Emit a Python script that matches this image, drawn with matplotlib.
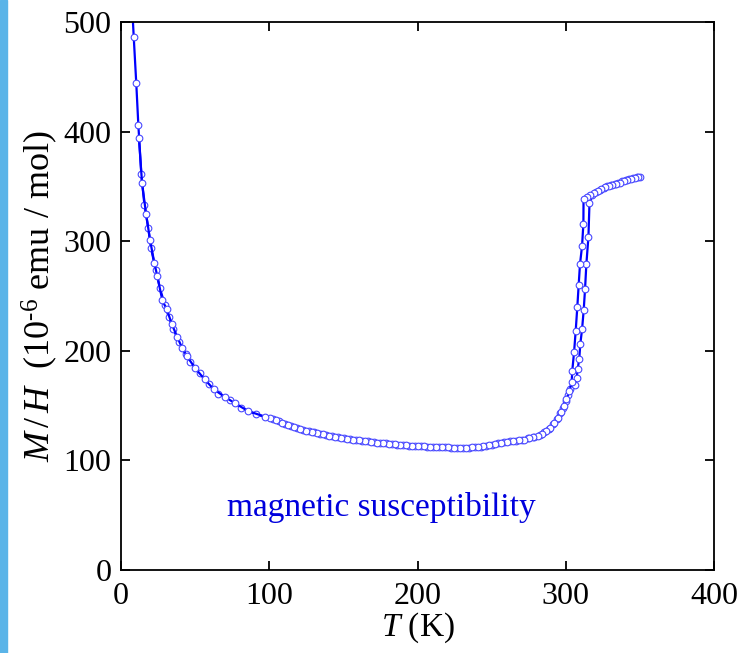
import matplotlib
matplotlib.use('Agg')
import matplotlib.pyplot as plt
from matplotlib.patches import Rectangle

plt.rcParams['font.family'] = ['Liberation Serif', 'DejaVu Serif']
plt.rcParams['mathtext.fontset'] = 'custom'
plt.rcParams['mathtext.rm'] = 'Liberation Serif'
plt.rcParams['mathtext.it'] = 'Liberation Serif:italic'

# ---- data (T in K, M/H in 1e-6 emu/mol) ----
# warming branch
T_warm = [7.6, 8.6, 10.3, 11.7, 13.7, 15.8, 18.4, 20.2, 23.4, 26.3, 29.5, 32.2,
          35.1, 39.4, 43.6, 46.8, 53.1, 59.1, 65.4, 73.3, 81.2, 91.3, 102.5,
          106.5, 110.5, 114.5, 118.5, 122.5, 126.5, 130.5, 134.5, 138.5, 142.5,
          146.5, 150.5, 154.5, 158.5, 162.5, 166.5, 170.5, 174.5, 178.5, 182.5,
          186.5, 190.5, 194.5, 198.5, 202.5, 206.5, 210.5, 214.5, 218.5, 222.5,
          226.5, 230.5, 234.5, 238.5, 242.5, 246.5, 250.5, 254.5, 258.5, 262.5,
          266.5, 270.5, 274.5, 278.5, 282.5, 285.5, 288.5, 291.5, 294.0, 296.0,
          298.0, 300.0, 301.7, 303.0, 306.2, 307.4, 308.0, 309.1, 309.8, 311.0,
          312.1, 313.0, 313.9, 315.3, 316.0, 318.0, 320.5, 323.0, 325.5, 328.0,
          330.5, 333.0, 335.5, 338.0, 340.5, 343.0, 345.5, 348.0, 350.0]
MH_warm = [512, 486, 444, 406, 361, 333, 312, 294, 274, 257, 242, 231,
           220, 208, 197, 190, 180, 170, 161, 155, 148, 142, 137.5,
           135.5, 133.5, 131.5, 129.5, 128, 126.5, 125.5, 124.5, 123, 122,
           121, 120, 119.5, 118.5, 118, 117.5, 116.5, 116, 115.5, 115,
           114.5, 114, 113.5, 113, 113, 112.5, 112.5, 112, 112, 111.5,
           111, 111, 111.5, 112, 112.5, 113.5, 114.5, 115.5, 116.5, 117.5,
           118, 119, 120, 121.5, 123.5, 126, 129, 133, 138, 143,
           148, 154, 160, 165, 169, 175, 183, 192.5, 206, 219.6,
           237, 256, 279, 304, 334.6, 342, 345, 347, 348.5, 350,
           351, 352, 353.5, 354.5, 355.5, 356.5, 357.5, 358.5, 359]

# cooling branch
T_cool = [349.0, 346.5, 344.0, 341.5, 339.0, 336.5, 334.0, 331.5, 329.0, 326.5,
          324.0, 321.5, 319.0, 316.5, 314.0, 312.0, 311.9, 311.0, 309.6, 308.7,
          307.8, 306.7, 305.6, 304.4, 304.0, 302.5, 300.5, 298.5, 296.5, 294.5,
          292.0, 289.5, 287.0, 284.0, 281.0, 278.0, 275.0, 272.0, 268.5, 264.5,
          260.5, 256.5, 252.5, 248.5, 244.5, 240.5, 236.5, 232.5, 228.5, 224.5,
          220.5, 216.5, 212.5, 208.5, 204.5, 200.5, 196.5, 192.5, 188.5, 184.5,
          180.5, 176.5, 172.5, 168.5, 164.5, 160.5, 156.5, 152.5, 148.5, 144.5,
          140.5, 136.5, 132.5, 128.5, 124.5, 120.5, 116.5, 112.5, 108.5, 104.5,
          100.5, 96.9, 85.7, 77.1, 69.9, 62.5, 56.4, 50.1, 44.5, 41.1, 37.8,
          34.4, 30.8, 27.9, 24.5, 22.5, 19.6, 16.9, 14.2, 12.1]
MH_cool = [358.5, 357.5, 356.5, 355.5, 354.5, 353.5, 352.5, 351.5, 350.5, 349,
           347.5, 346, 344, 342, 340, 338.5, 316, 295.6, 279, 259.7,
           240, 218, 198.6, 181.8, 171.8, 163, 156, 150, 144, 139,
           134, 130, 127, 124.5, 122.5, 121, 120, 119, 118.5, 117.8,
           117, 116, 115, 114, 113, 112.2, 111.8, 111.2, 111, 111.2,
           111.8, 112, 112.2, 112.5, 112.8, 113, 113.2, 113.8, 114.2, 114.8,
           115.2, 115.8, 116.3, 117, 117.8, 118.2, 119, 119.8, 120.5, 121.5,
           122.5, 123.7, 125, 126, 127.2, 128.7, 130.5, 132.5, 134.5, 136.5,
           138.5, 140, 145, 152, 158, 165, 174, 184, 195, 203, 213,
           224, 238, 246, 268, 280, 301, 325, 353, 394]

x_ticks = [0, 100, 200, 300, 400]
y_ticks = [0, 100, 200, 300, 400, 500]

fig = plt.figure(figsize=(7.42, 6.53), dpi=100)
fig.patches.append(Rectangle((0, 0), 7 / 742, 1, transform=fig.transFigure,
                             color='#5ab4e8', zorder=0))
ax = fig.add_axes([121 / 742, 1 - 570 / 653, 593 / 742, 548 / 653])

style = dict(color='#0000ff', lw=1.6, marker='o', ms=4.8, mfc='white',
             mec='#4848ff', mew=0.8)
ax.plot(T_warm, MH_warm, **style)
ax.plot(T_cool, MH_cool, **style)

ax.text(175.5, 57, 'magnetic susceptibility', color='#0000dd', fontsize=24,
        ha='center', va='center')

ax.set_xlim(0, 400)
ax.set_ylim(0, 500)
ax.set_xticks(x_ticks)
ax.set_yticks(y_ticks)
ax.tick_params(direction='in', length=6.5, width=1.3, labelsize=23,
               top=True, right=True, pad=7)
ax.tick_params(axis='x', pad=9)
for s in ax.spines.values():
    s.set_linewidth(1.3)

ax.set_xlabel(r'$T$ (K)', fontsize=24, labelpad=-1)
ax.set_ylabel(r'$M\,/\,H$  (10$^{\text{-}6}$ emu / mol)', fontsize=26, labelpad=2)

fig.savefig('out.png', dpi=100)
